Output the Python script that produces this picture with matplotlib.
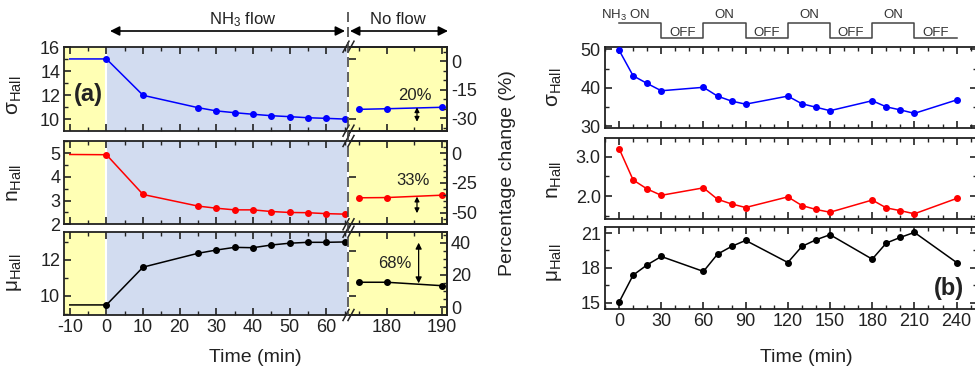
import matplotlib
matplotlib.use('Agg')
import matplotlib.pyplot as plt
from matplotlib.ticker import MultipleLocator
from matplotlib.lines import Line2D
import matplotlib.transforms as mtransforms

plt.rcParams['font.family'] = ['Liberation Sans', 'DejaVu Sans']
plt.rcParams['mathtext.fontset'] = 'custom'
plt.rcParams['mathtext.rm'] = 'Liberation Sans'
plt.rcParams['mathtext.it'] = 'Liberation Sans:italic'
plt.rcParams['mathtext.bf'] = 'Liberation Sans:bold'
plt.rcParams['axes.unicode_minus'] = False

# ---------------- data: panel (a) ----------------
t_a_left = [-10, 0, 10, 25, 30, 35, 40, 45, 50, 55, 60, 65]
sigma_a_left = [15.03, 15.03, 12.0, 10.97, 10.7, 10.55, 10.42, 10.3, 10.22, 10.13, 10.08, 10.02]
n_a_left = [4.95, 4.94, 3.26, 2.77, 2.68, 2.61, 2.61, 2.54, 2.50, 2.49, 2.45, 2.43]
mu_a_left = [9.5, 9.5, 11.6, 12.37, 12.55, 12.7, 12.68, 12.83, 12.93, 12.98, 12.98, 13.0]
t_a_right = [175, 180, 190]
sigma_a_right = [10.83, 10.88, 11.0]
n_a_right = [3.12, 3.13, 3.23]
mu_a_right = [10.76, 10.76, 10.57]
change_labels = ['20%', '33%', '68%']
xticks_a_left = [-10, 0, 10, 20, 30, 40, 50, 60]
xticks_a_right = [180, 190]

# ---------------- data: panel (b) ----------------
t_b = [0, 10, 20, 30, 60, 70, 80, 90, 120, 130, 140, 150, 180, 190, 200, 210, 240]
sigma_b = [49.8, 43.1, 41.1, 39.2, 40.1, 37.8, 36.5, 35.7, 37.8, 35.8, 34.9, 34.0,
           36.6, 35.0, 34.2, 33.3, 36.8]
n_b = [3.21, 2.41, 2.18, 2.02, 2.21, 1.92, 1.80, 1.71, 1.98, 1.76, 1.66, 1.59,
       1.90, 1.70, 1.63, 1.55, 1.94]
mu_b = [15.03, 17.37, 18.26, 18.98, 17.69, 19.18, 19.85, 20.37, 18.46, 19.85, 20.42, 20.86,
        18.75, 20.14, 20.63, 21.06, 18.46]
step_t = [0, 30, 60, 90, 120, 150, 180, 210, 240]
step_state = ['ON', 'OFF', 'ON', 'OFF', 'ON', 'OFF', 'ON', 'OFF']
xticks_b = [0, 30, 60, 90, 120, 150, 180, 210, 240]

W, H = 975, 369
fig = plt.figure(figsize=(W / 100, H / 100), dpi=100)

YELLOW = '#FFFFB4'
BLUE = '#D2DCF0'
TXT = '#222222'
FS = 13
MS = 4.0


def rect(x0, y0, x1, y1):
    return [x0 / W, 1 - y1 / H, (x1 - x0) / W, (y1 - y0) / H]


def fp(x, y):
    return (x / W, 1 - y / H)


def style(ax):
    for s in ax.spines.values():
        s.set_linewidth(1.3)
        s.set_color(TXT)
    ax.tick_params(which='both', direction='in', colors=TXT, labelsize=FS, pad=3)
    ax.tick_params(which='major', length=5, width=1.2)
    ax.tick_params(which='minor', length=3, width=1.0)


SIG = 'σ$_{\\mathrm{Hall}}$'
NN = 'n$_{\\mathrm{Hall}}$'
MU = 'μ$_{\\mathrm{Hall}}$'

# ---------------- panel (a) ----------------
rows_a = [(46.7, 130.7), (141, 224.3), (231.7, 315)]
series_a = [
    (sigma_a_left, sigma_a_right, 'blue', (9.05, 16.05), [10, 12, 14, 16], 1, (-36.6, 7.6), [-30, -15, 0], 5,
     SIG, (185.5, 11.0, 9.8), (185.1, 12.0)),
    (n_a_left, n_a_right, 'red', (2.0, 5.52), [2, 3, 4, 5], 0.5, (-59.8, 10.35), [-50, -25, 0], 5,
     NN, (185.5, 3.17, 2.47), (184.8, 3.87)),
    (mu_a_left, mu_a_right, 'black', (8.94, 13.57), [10, 12], 1, (-4.8, 46.8), [0, 20, 40], 5,
     MU, (185.8, 12.96, 10.7), (181.5, 11.81)),
]
ylab_a_y = [95, 183, 273]

for i, ((y0, y1), ser) in enumerate(zip(rows_a, series_a)):
    (yl, yr, col, ylim, yt, ymin, plim, pt, pmin, lab, arr, txt) = ser
    axl = fig.add_axes(rect(64.3, y0, 346.7, y1))
    axr = fig.add_axes(rect(349.3, y0, 446.7, y1))
    style(axl)
    style(axr)
    axl.set_xlim(-11.5, 65.6)
    axr.set_xlim(173.2, 190.9)
    for a in (axl, axr):
        a.set_ylim(*ylim)
    axl.axvspan(-11.5, 0, color=YELLOW, lw=0, zorder=0)
    axl.axvspan(0, 65.6, color=BLUE, lw=0, zorder=0)
    axl.axvline(0, color='white', lw=1.5, zorder=1)
    axr.set_facecolor(YELLOW)
    axl.plot(t_a_left, yl, color=col, lw=1.1, marker='o', ms=MS,
             markevery=list(range(1, len(t_a_left))), zorder=3)
    axr.plot(t_a_right, yr, color=col, lw=1.1, marker='o', ms=MS, zorder=3)

    axl.spines['right'].set_visible(False)
    axr.spines['left'].set_visible(False)
    axl.tick_params(which='both', top=True, bottom=True, left=True, right=False)
    axr.tick_params(which='both', top=True, bottom=True, left=False, right=False,
                    labelleft=False)
    axl.set_xticks(xticks_a_left)
    axl.xaxis.set_minor_locator(MultipleLocator(5))
    axr.set_xticks(xticks_a_right)
    axr.xaxis.set_minor_locator(MultipleLocator(5))
    axl.set_yticks(yt)
    axl.yaxis.set_minor_locator(MultipleLocator(ymin))
    axl.set_ylim(*ylim)
    if i < 2:
        axl.tick_params(labelbottom=False)
        axr.tick_params(labelbottom=False)

    tw = axr.twinx()
    style(tw)
    tw.spines['left'].set_visible(False)
    tw.set_ylim(*plim)
    tw.set_yticks(pt)
    tw.yaxis.set_minor_locator(MultipleLocator(pmin))
    tw.set_ylim(*plim)
    tw.tick_params(which='both', left=False, right=True)

    axr.annotate('', xy=(arr[0], arr[2]), xytext=(arr[0], arr[1]),
                 arrowprops=dict(arrowstyle='<|-|>', color='black', lw=0.9,
                                 mutation_scale=7 if i < 2 else 9, shrinkA=0, shrinkB=0),
                 zorder=4)
    axr.text(txt[0], txt[1], change_labels[i], ha='center', va='center',
             fontsize=12, color=TXT, zorder=4)

    fig.text(*fp(15, ylab_a_y[i]), lab, rotation=90, ha='center', va='center',
             fontsize=15, color=TXT)

    for yy in (y0, y1):
        for cx in (346.0, 351.0):
            fig.add_artist(Line2D([(cx - 3) / W, (cx + 3) / W],
                                  [1 - (yy + 5.5) / H, 1 - (yy - 5.5) / H],
                                  color=TXT, lw=1.1))

    if i == 0:
        axl.text(-5.0, 12.05, '(a)', fontsize=17, fontweight='bold', ha='center',
                 va='center', color=TXT)

fig.add_artist(Line2D([347.5 / W, 347.5 / W], [1 - 12 / H, 1 - 315 / H],
                      color='#444444', lw=1.2, ls=(0, (6, 3)), zorder=10))

fig.add_artist(matplotlib.patches.FancyArrowPatch(
    fp(110, 31), fp(345, 31), transform=fig.transFigure, arrowstyle='<|-|>',
    mutation_scale=14, color='black', lw=1.2, shrinkA=0, shrinkB=0))
fig.add_artist(matplotlib.patches.FancyArrowPatch(
    fp(350, 31), fp(448, 31), transform=fig.transFigure, arrowstyle='<|-|>',
    mutation_scale=14, color='black', lw=1.2, shrinkA=0, shrinkB=0))
fig.text(*fp(243, 20), r'NH$_3$ flow', ha='center', va='center', fontsize=12, color=TXT)
fig.text(*fp(398, 20), 'No flow', ha='center', va='center', fontsize=12, color=TXT)

fig.text(*fp(255, 357), 'Time (min)', ha='center', va='center', fontsize=14, color=TXT)
fig.text(*fp(508, 173), 'Percentage change (%)', rotation=90, ha='center', va='center',
         fontsize=14, color=TXT)

# ---------------- panel (b) ----------------
rows_b = [(46.7, 128.3), (138.3, 219.3), (227.3, 309.3)]
series_b = [
    (sigma_b, 'blue', (29.4, 50.7), [30, 40, 50], 5, SIG, '%d'),
    (n_b, 'red', (1.41, 3.47), [2.0, 3.0], 0.5, NN, '%.1f'),
    (mu_b, 'black', (14.42, 21.5), [15, 18, 21], 1.5, MU, '%d'),
]
ylab_b_y = [87, 180, 263]
axes_b = []
for i, ((y0, y1), ser) in enumerate(zip(rows_b, series_b)):
    vals, col, ylim, yt, ymin, lab, fmt = ser
    ax = fig.add_axes(rect(605, y0, 977, y1))
    style(ax)
    ax.set_xlim(-10, 254.5)
    ax.plot(t_b, vals, color=col, lw=1.1, marker='o', ms=MS, zorder=3)
    ax.set_ylim(*ylim)
    ax.set_yticks(yt)
    ax.yaxis.set_major_formatter(matplotlib.ticker.FormatStrFormatter(fmt))
    ax.yaxis.set_minor_locator(MultipleLocator(ymin))
    ax.set_ylim(*ylim)
    ax.set_xticks(xticks_b)
    ax.xaxis.set_minor_locator(MultipleLocator(10))
    ax.tick_params(which='both', top=True, bottom=True, left=True, right=True)
    if i < 2:
        ax.tick_params(labelbottom=False)
    fig.text(*fp(555, ylab_b_y[i]), lab, rotation=90, ha='center', va='center',
             fontsize=15, color=TXT)
    axes_b.append(ax)

axes_b[2].text(0.925, 0.25, '(b)', transform=axes_b[2].transAxes, fontsize=17,
               fontweight='bold', ha='center', va='center', color=TXT)
fig.text(*fp(806, 357), 'Time (min)', ha='center', va='center', fontsize=14, color=TXT)

tr = mtransforms.blended_transform_factory(axes_b[0].transData, fig.transFigure)
y_hi = 1 - 22.7 / H
y_lo = 1 - 38.3 / H
xs, ys = [], []
for k, st in enumerate(step_state):
    lvl = y_hi if st == 'ON' else y_lo
    xs += [step_t[k], step_t[k + 1]]
    ys += [lvl, lvl]
fig.add_artist(Line2D(xs, ys, transform=tr, color='#444444', lw=1.1))
for k, st in enumerate(step_state):
    mid = 0.5 * (step_t[k] + step_t[k + 1])
    if st == 'ON':
        label = r'NH$_3$ ON' if k == 0 else 'ON'
        xm = 5 if k == 0 else mid
        fig.text(xm, 1 - 15 / H, label, transform=tr, ha='center', va='center',
                 fontsize=9.5, color='#333333')
    else:
        fig.text(mid, 1 - 32.7 / H, 'OFF', transform=tr, ha='center', va='center',
                 fontsize=9.5, color='#333333')

fig.savefig('out.png', dpi=100)
